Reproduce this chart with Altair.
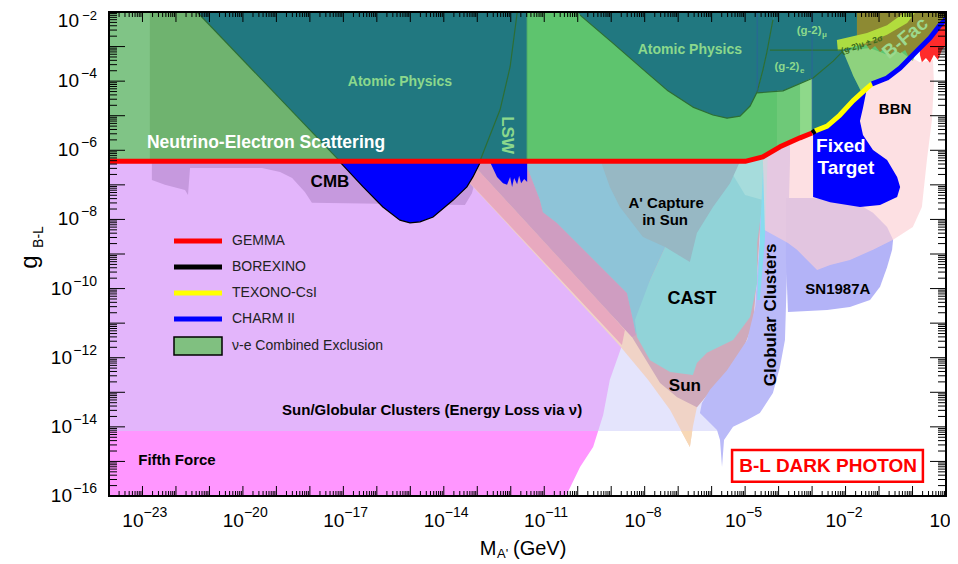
import altair as alt
import pandas as pd

FONT = "Liberation Sans"
W, H = 837, 484

# ---------------- axes ----------------
X_MIN_EXP, X_MAX_EXP = -24, 1
Y_MIN_EXP, Y_MAX_EXP = -16, -2
X_LABEL_EXP = [-23, -20, -17, -14, -11, -8, -5, -2]
X_LAST_LABEL_EXP = 1
Y_LABEL_EXP_1 = [-4, -6, -8]
Y_LABEL_EXP_2 = [-10, -12, -14, -16]
Y_TOP_LABEL_EXP = -2

# ---------------- regions (log10 M [GeV], log10 g) ----------------
PALE_M = [-24, -5.75, -5.30, -4.56, -4.56, -24]
PALE_G = [-14.12, -14.12, -13.95, -12.64, -6.0, -6.0]

FIFTH_M = [-24, -24, -9.39, -9.54, -9.93, -10.35]
FIFTH_G = [-16, -14.12, -14.12, -14.58, -15.16, -16]

ELOSS_M = [-24, -9.39, -9.24, -9.04, -8.65, -8.50, -13.5, -24]
ELOSS_G = [-14.12, -14.12, -13.66, -12.64, -11.57, -11.0, -6.0, -6.0]

CMB_M = [-22.72, -22.72, -22.33, -21.73, -21.64, -21.58, -19.43, -18.89, -18.53, -18.15, -17.94, -13.37, -13.16, -13.01, -12.92]
CMB_G = [-6.34, -6.86, -7.00, -7.15, -7.29, -6.51, -6.51, -6.63, -6.80, -7.21, -7.52, -7.58, -7.24, -6.71, -6.34]

PEACH_M = [-13.81, -9.04, -8.74, -7.90, -7.24, -6.65, -6.56, -6.44, -5.75, -5.15, -4.76, -4.64, -4.50, -4.41]
PEACH_G = [-6.34, -11.34, -11.66, -12.64, -13.51, -14.58, -14.00, -13.43, -12.64, -11.98, -11.00, -9.55, -7.44, -6.34]

PEACH_TIP_M = [-6.91, -6.65, -6.58]
PEACH_TIP_G = [-14.12, -14.58, -14.12]

SALMON_M = [-13.81, -8.68, -8.59, -9.04, -13.19]
SALMON_G = [-6.34, -11.63, -11.20, -10.71, -6.34]

SUN_M = [-13.19, -9.04, -8.38, -7.54, -7.03, -6.44, -5.75, -5.15, -4.76, -4.64, -4.50, -4.41]
SUN_G = [-6.34, -10.71, -11.40, -12.73, -13.14, -13.43, -12.64, -11.98, -11.00, -9.55, -7.44, -6.34]

MAUVE_M = [-13.19, -9.04, -8.38, -8.26, -8.35, -8.53, -10.62, -11.04, -11.13, -11.51, -11.51]
MAUVE_G = [-6.34, -10.71, -11.40, -11.34, -10.91, -10.13, -8.10, -7.79, -7.44, -6.48, -6.0]

LBLUE_M = [-11.51, -11.51, -11.13, -11.04, -10.62, -8.53, -8.35, -8.26, -7.84, -7.39, -7.03, -6.91, -6.91]
LBLUE_G = [-6.0, -6.48, -7.44, -7.79, -8.10, -10.13, -10.91, -11.34, -9.75, -8.80, -7.52, -6.34, -6.0]

GLOB_M = [-4.56, -3.66, -3.66, -3.72, -3.81, -3.96, -4.17, -4.56, -4.94, -5.36, -5.63, -5.69, -5.75, -5.84, -6.05, -6.35, -6.29, -6.05, -5.54, -4.94, -4.70, -4.64, -4.56]
GLOB_G = [-5.7, -5.7, -6.34, -8.59, -11.49, -12.27, -13.02, -13.60, -13.80, -14.00, -14.38, -15.16, -14.38, -14.09, -13.89, -13.60, -13.31, -12.93, -12.36, -11.49, -10.53, -9.55, -8.59]

SN_M = [-3.78, -2.97, -1.57, -1.18, -0.76, -0.58, -0.61, -0.76, -0.97, -1.27, -1.87, -2.55, -3.72, -3.78]
SN_G = [-7.38, -7.38, -7.58, -7.81, -8.22, -8.59, -8.88, -9.38, -9.95, -10.33, -10.53, -10.62, -10.68, -9.17]

CAST_M = [-6.91, -7.03, -7.39, -7.84, -8.29, -8.23, -7.84, -7.24, -6.56, -6.44, -6.14, -5.36, -4.85, -4.64, -4.64, -4.47, -4.38, -4.38, -6.91]
CAST_G = [-6.34, -7.52, -8.80, -9.75, -10.91, -11.40, -12.07, -12.41, -12.50, -12.15, -11.86, -11.49, -10.82, -9.84, -8.68, -7.44, -6.34, -6.0, -6.0]

CYAN_M = [-4.44, -4.32, -4.41, -4.56, -4.64, -4.56]
CYAN_G = [-6.0, -6.0, -8.59, -10.33, -10.33, -8.59]

CASTL_M = [-5.81, -5.00, -4.47, -4.38]
CASTL_G = [-6.0, -7.29, -7.44, -6.0]

ACAP_M = [-9.33, -9.27, -9.04, -8.74, -8.05, -7.39, -6.65, -6.44, -5.96, -5.45, -5.00]
ACAP_G = [-6.0, -6.43, -7.06, -7.64, -8.51, -8.80, -9.23, -8.39, -7.64, -6.95, -6.0]

BBN_M = [-4.47, -3.96, -3.36, -3.00, -2.55, -2.17, -1.78, -1.36, -1.21, -0.76, -0.37, -0.01, 0.22, 0.61, 0.64, 0.58, 0.43, 0.28, 0.01, -0.58, -1.18, -1.87, -2.46, -2.85, -3.45, -3.72, -4.41]
BBN_G = [-6.28, -5.90, -5.64, -5.50, -5.30, -4.98, -4.57, -4.20, -4.08, -3.91, -3.62, -3.33, -3.45, -3.39, -4.05, -5.12, -6.28, -7.64, -8.22, -8.59, -8.88, -9.17, -9.32, -9.46, -8.88, -8.68, -8.31]

FIXED_M = [-2.97, -2.55, -2.17, -1.78, -1.36, -1.48, -1.57, -1.48, -1.18, -0.76, -0.46, -0.37, -0.46, -0.97, -1.57, -2.46, -2.97]
FIXED_G = [-5.44, -5.30, -4.98, -4.57, -4.20, -4.78, -5.15, -5.56, -5.99, -6.28, -6.77, -7.06, -7.35, -7.58, -7.64, -7.50, -7.35]

BLUE1_M = [-17.10, -16.41, -15.82, -15.31, -15.01, -14.71, -14.32, -13.72, -13.31, -13.13, -12.92]
BLUE1_G = [-6.34, -7.06, -7.64, -8.02, -8.10, -8.07, -7.93, -7.44, -7.06, -6.77, -6.37]

BLUE2_M = [-12.62, -12.41, -12.23, -12.11, -12.02, -11.96, -11.90, -11.81, -11.75, -11.69, -11.60, -11.51, -11.51]
BLUE2_G = [-6.34, -6.77, -6.95, -7.00, -6.77, -7.06, -6.80, -6.98, -6.74, -6.95, -6.83, -6.92, -6.34]

# experimental limits (lines)
GEMMA_M = [-24, -5.0, -4.47, -3.96, -3.36, -3.00]
GEMMA_G = [-6.32, -6.32, -6.19, -5.90, -5.64, -5.50]
BOREX_M = [-3.00, -2.91]
BOREX_G = [-5.50, -5.44]
TEXONO_M = [-2.91, -2.55, -2.17, -1.78, -1.36, -1.21]
TEXONO_G = [-5.44, -5.30, -4.98, -4.57, -4.20, -4.08]
CHARM_M = [-1.21, -0.76, -0.37, 0.13, 0.52, 0.82, 1.0]
CHARM_G = [-4.08, -3.91, -3.62, -3.13, -2.75, -2.38, -2.2]

# upper regions
GREEN_M = [-24, -5.0, -4.47, -3.96, -3.36, -3.00, -2.91, -2.55, -2.17, -1.78, -1.36, -1.21, -0.76, -0.37, 0.13, 0.52, 0.82, 1.0, 1.0, -24]
GREEN_G = [-6.32, -6.32, -6.19, -5.90, -5.64, -5.50, -5.44, -5.30, -4.98, -4.57, -4.20, -4.08, -3.91, -3.62, -3.13, -2.75, -2.38, -2.2, -2.0, -2.0]
GLEFT_M = [-24, -21.37, -17.10, -24]
GLEFT_G = [-2.0, -2.0, -6.32, -6.32]
GSTRIP_M = [-24, -22.78, -22.78, -24]
GSTRIP_G = [-2.0, -2.0, -6.32, -6.32]
TEAL1_M = [-21.37, -11.51, -11.51, -17.10]
TEAL1_G = [-2.0, -2.0, -6.32, -6.32]
ATOM_M = [-9.99, -9.93, -8.95, -7.93, -7.33, -6.56, -5.96, -5.54, -5.15, -4.85, -4.64, -4.47, -4.35, -4.17, -4.08]
ATOM_G = [-2.0, -2.09, -2.90, -3.76, -4.26, -4.75, -4.98, -5.07, -5.01, -4.72, -4.31, -3.68, -3.16, -2.23, -2.0]
G2_M = [-4.08, -1.66, -1.66, -1.87, -1.78, -1.51, -1.78, -2.17, -2.55, -2.91, -3.00, -3.00, -3.87, -4.64, -4.47, -4.35, -4.17]
G2_G = [-2.0, -2.0, -2.87, -3.04, -3.82, -4.34, -4.57, -4.98, -5.30, -5.44, -5.50, -3.91, -4.28, -4.34, -3.68, -3.16, -2.23]
STRA_M = [-4.05, -3.36, -3.36, -3.87, -4.05]
STRA_G = [-5.96, -5.64, -4.08, -4.28, -4.28]
STRB_M = [-3.36, -3.00, -3.00, -3.36]
STRB_G = [-5.64, -5.50, -3.91, -4.08]
LG_M = [-2.08, -1.27, -0.76, -0.37, 0.01, 0.13, -0.37, -0.76, -1.21, -1.36, -1.51, -1.78]
LG_G = [-3.13, -3.04, -3.24, -3.13, -3.42, -3.13, -3.62, -3.91, -4.08, -4.20, -4.34, -3.82]
BFAC_M = [-1.66, -1.66, -1.48, -1.39, -1.27, -1.12, -0.97, -0.82, -0.67, -0.52, -0.37, -0.22, -0.07, 0.04, 0.13, 0.52, 0.82, 1.0, 1.0]
BFAC_G = [-2.0, -2.87, -3.01, -2.93, -3.10, -2.98, -3.16, -3.04, -3.24, -3.10, -3.19, -3.10, -3.39, -3.16, -3.13, -2.75, -2.38, -2.2, -2.0]
BABAR_M = [0.22, 0.52, 0.82, 1.0, 1.0, 0.88, 0.76, 0.64, 0.52, 0.40, 0.28, 0.22]
BABAR_G = [-3.01, -2.75, -2.38, -2.2, -2.95, -3.10, -3.39, -3.24, -3.47, -3.33, -3.45, -3.24]
BAND_M = [-2.23, -1.36, -0.76, -0.16, 0.07, -0.22, -0.76, -1.36, -2.26]
BAND_G = [-3.13, -2.90, -2.66, -2.32, -2.03, -2.0, -2.38, -2.61, -2.81]

# boundary curves
DIAG_M = [-21.37, -17.10]
DIAG_G = [-2.0, -6.32]
LSWC_M = [-11.81, -12.02, -12.32, -12.71, -12.92]
LSWC_G = [-2.03, -3.59, -4.83, -5.79, -6.31]
G2E_M = [-4.64, -3.87, -2.97, -2.37, -2.08]
G2E_G = [-4.34, -4.28, -3.91, -3.42, -3.13]
G2MU_M = [-4.26, -2.08]
G2MU_G = [-3.10, -3.10]

# ---------------- helpers ----------------
xs = alt.Scale(type="log", domain=[10.0 ** X_MIN_EXP, 10.0 ** X_MAX_EXP], nice=False)
ys = alt.Scale(type="log", domain=[10.0 ** Y_MIN_EXP, 10.0 ** Y_MAX_EXP], nice=False)


def XE(f):
    return alt.X(f, type="quantitative", scale=xs, axis=None)


def YE(f):
    return alt.Y(f, type="quantitative", scale=ys, axis=None)


def frame(lm, lg):
    return pd.DataFrame({"m": [10.0 ** v for v in lm],
                         "g": [10.0 ** v for v in lg],
                         "i": list(range(len(lm)))})


def poly(lm, lg, fill, opacity=1.0, stroke=None, sw=1.0):
    kw = dict(filled=True, fill=fill, fillOpacity=opacity, clip=True, interpolate="linear")
    if stroke:
        kw["stroke"] = stroke
        kw["strokeWidth"] = sw
    else:
        kw["strokeWidth"] = 0
    return alt.Chart(frame(lm, lg)).mark_line(**kw).encode(
        x=XE("m"), y=YE("g"), order=alt.Order("i:Q"))


def curve(lm, lg, color, width, opacity=1.0):
    return alt.Chart(frame(lm, lg)).mark_line(
        color=color, strokeWidth=width, clip=True, interpolate="linear",
        strokeCap="butt", strokeJoin="round", opacity=opacity).encode(
        x=XE("m"), y=YE("g"), order=alt.Order("i:Q"))


def txt(s, lm, lg, size, color="black", angle=None, weight="bold", align="center", dx=None, dy=None):
    d = pd.DataFrame({"m": [10.0 ** lm], "g": [10.0 ** lg], "t": [s]})
    kw = dict(fontSize=size, color=color, fontWeight=weight, align=align, baseline="middle", font=FONT)
    if angle is not None:
        kw["angle"] = angle
    if dx is not None:
        kw["dx"] = dx
    if dy is not None:
        kw["dy"] = dy
    return alt.Chart(d).mark_text(**kw).encode(x=XE("m"), y=YE("g"), text="t:N")


def ptxt(s, px, py, size, color="black", angle=None, weight="normal", align="center"):
    d = pd.DataFrame({"t": [s]})
    kw = dict(fontSize=size, color=color, fontWeight=weight, align=align, baseline="middle", font=FONT)
    if angle is not None:
        kw["angle"] = angle
    return alt.Chart(d).mark_text(**kw).encode(x=alt.value(px), y=alt.value(py), text="t:N")


one = pd.DataFrame({"a": [0]})
layers = []

# ---- lower regions ----
layers += [
    poly(PALE_M, PALE_G, "#e4e4fc"),
    poly(FIFTH_M, FIFTH_G, "#ff96ff"),
    poly(ELOSS_M, ELOSS_G, "#e3b5fb"),
    poly(CMB_M, CMB_G, "#c699de"),
    poly(PEACH_M, PEACH_G, "#f0d3c6"),
    poly(PEACH_TIP_M, PEACH_TIP_G, "#f8d8b6"),
    poly(SALMON_M, SALMON_G, "#e8a9bf"),
    poly(SUN_M, SUN_G, "#cfaabb"),
    poly(MAUVE_M, MAUVE_G, "#cf9dc1"),
    poly(LBLUE_M, LBLUE_G, "#8ec4d8"),
    poly(GLOB_M, GLOB_G, "#babaf8"),
    poly(SN_M, SN_G, "#b3b3f7"),
    poly(CAST_M, CAST_G, "#91d3d8"),
    poly(CASTL_M, CASTL_G, "#a6dcdc"),
    poly(CYAN_M, CYAN_G, "#86dcef"),
    poly(ACAP_M, ACAP_G, "#97b8c4"),
    poly(BBN_M, BBN_G, "#fcd0d4", opacity=0.65),
    poly(FIXED_M, FIXED_G, "#0000ff"),
    poly(BLUE1_M, BLUE1_G, "#0000ff", stroke="black", sw=1.2),
    poly(BLUE2_M, BLUE2_G, "#0000ff"),
]

# ---- upper regions ----
layers += [
    poly(GREEN_M, GREEN_G, "#5ec46e"),
    poly(GLEFT_M, GLEFT_G, "#6fb36f"),
    poly(GSTRIP_M, GSTRIP_G, "#80c486"),
    poly(TEAL1_M, TEAL1_G, "#217880"),
    poly(ATOM_M, ATOM_G, "#217880"),
    poly(G2_M, G2_G, "#217880"),
    poly(STRA_M, STRA_G, "#6ec978"),
    poly(STRB_M, STRB_G, "#8ed98a"),
    poly(LG_M, LG_G, "#8ed27e"),
    poly(BFAC_M, BFAC_G, "#8d8a33"),
    poly(BABAR_M, BABAR_G, "#ff2b2b"),
    poly(BAND_M, BAND_G, "#b4e23e", opacity=0.95),
]

# ---- boundary curves ----
DG = "#2d6e34"
layers += [
    curve(DIAG_M, DIAG_G, DG, 1.2),
    curve(LSWC_M, LSWC_G, DG, 1.2),
    curve(ATOM_M[1:-1], ATOM_G[1:-1], DG, 1.2),
    curve(G2E_M, G2E_G, DG, 1.2),
    curve(G2MU_M, G2MU_G, DG, 1.2),
    curve([-11.51, -11.51], [-2.0, -6.32], "#58b868", 1.0),
    curve([-4.64, -4.64], [-2.0, -4.31], "#3355aa", 0.8, 0.7),
    curve([-3.0, -3.0], [-2.0, -5.5], "#3355aa", 0.8, 0.7),
]

# ---- experimental lines ----
layers += [
    curve(GEMMA_M, GEMMA_G, "#ff0000", 5),
    curve(TEXONO_M, TEXONO_G, "#ffff00", 5),
    curve(CHARM_M, CHARM_G, "#0000ff", 5),
    curve(BOREX_M, BOREX_G, "#000000", 5),
]

# ---- region labels ----
LG_TXT = "#8cd88c"
layers += [
    txt("Atomic Physics", -15.31, -4.02, 14, LG_TXT),
    txt("Atomic Physics", -6.65, -3.10, 14, LG_TXT),
    txt("(g-2)", -3.0, -2.55, 11.5, LG_TXT, dx=-3),
    txt("μ", -3.0, -2.55, 8, LG_TXT, align="left", dx=10, dy=4),
    txt("(g-2)", -3.66, -3.59, 11.5, LG_TXT, dx=-3),
    txt("e", -3.66, -3.59, 8, LG_TXT, align="left", dx=10, dy=4),
    txt("LSW", -12.11, -5.56, 17, LG_TXT, angle=90),
    txt("Neutrino-Electron Scattering", -19.31, -5.79, 17.5, "white"),
    txt("CMB", -17.40, -6.92, 17),
    txt("A' Capture", -7.36, -7.52, 15),
    txt("in Sun", -7.39, -8.02, 15),
    txt("CAST", -6.59, -10.30, 18),
    txt("Sun", -6.80, -12.82, 17),
    txt("Globular Clusters", -4.23, -10.76, 17, angle=270),
    txt("SN1987A", -2.23, -10.01, 15),
    txt("BBN", -0.52, -4.81, 15),
    txt("Fixed", -2.14, -5.88, 19, "white"),
    txt("Target", -1.99, -6.51, 19, "white"),
    txt("Sun/Globular Clusters (Energy Loss via ν)", -14.35, -13.51, 15),
    txt("Fifth Force", -21.97, -14.96, 15),
    txt("B-Fac", -0.22, -2.75, 19, "#9cd98e", angle=320),
    txt("(g-2)μ ± 2σ", -1.51, -2.93, 8.5, "#3b6a1c", angle=342),
]

# B-L DARK PHOTON box
box = pd.DataFrame({"m1": [10.0 ** -5.39], "m2": [10.0 ** 0.31], "g1": [10.0 ** -14.67], "g2": [10.0 ** -15.59]})
layers.append(alt.Chart(box).mark_rect(fill="white", stroke="#ff0000", strokeWidth=2.5).encode(
    x=XE("m1"), x2="m2", y=YE("g1"), y2="g2"))
layers.append(txt("B-L DARK PHOTON", -2.52, -15.13, 19, "#ff0000"))

# ---- legend ----
LEG_ROWS = [("GEMMA", "#ff0000", 229), ("BOREXINO", "#000000", 255),
            ("TEXONO-CsI", "#ffff00", 281), ("CHARM II", "#0000ff", 307)]
for name, col, yy in LEG_ROWS:
    layers.append(alt.Chart(one).mark_rule(color=col, strokeWidth=5).encode(
        x=alt.value(65), x2=alt.value(113), y=alt.value(yy)))
    layers.append(ptxt(name, 123, yy, 14, "#222222", align="left"))
layers.append(alt.Chart(one).mark_rect(fill="#80c080", stroke="black", strokeWidth=1.5).encode(
    x=alt.value(65), x2=alt.value(113), y=alt.value(325), y2=alt.value(343)))
layers.append(ptxt("ν-e Combined Exclusion", 123, 334, 14, "#222222", align="left"))

# ---- frame & ticks ----
XMAJ = pd.DataFrame({"v": [10.0 ** k for k in range(X_MIN_EXP + 1, X_MAX_EXP)]})
XMIN = pd.DataFrame({"v": [m * 10.0 ** k for k in range(X_MIN_EXP, X_MAX_EXP) for m in range(2, 10)]})
YMAJ = pd.DataFrame({"v": [10.0 ** k for k in range(Y_MIN_EXP + 1, Y_MAX_EXP)]})
YMIN = pd.DataFrame({"v": [m * 10.0 ** k for k in range(Y_MIN_EXP, Y_MAX_EXP) for m in range(2, 10)]})


def xticks(df, length):
    return [alt.Chart(df).mark_rule(color="black", strokeWidth=1).encode(
                x=XE("v"), y=alt.value(H), y2=alt.value(H - length)),
            alt.Chart(df).mark_rule(color="black", strokeWidth=1).encode(
                x=XE("v"), y=alt.value(0), y2=alt.value(length))]


def yticks(df, length):
    return [alt.Chart(df).mark_rule(color="black", strokeWidth=1).encode(
                y=YE("v"), x=alt.value(0), x2=alt.value(length)),
            alt.Chart(df).mark_rule(color="black", strokeWidth=1).encode(
                y=YE("v"), x=alt.value(W), x2=alt.value(W - length))]


layers += xticks(XMAJ, 10) + xticks(XMIN, 5) + yticks(YMAJ, 16) + yticks(YMIN, 8)
layers.append(alt.Chart(one).mark_rect(filled=False, stroke="black", strokeWidth=2).encode(
    x=alt.value(0), x2=alt.value(W), y=alt.value(0), y2=alt.value(H)))

# ---- tick labels ----
xl = pd.DataFrame({"v": [10.0 ** k for k in X_LABEL_EXP],
                   "b": ["10"] * len(X_LABEL_EXP),
                   "e": ["\u2212" + str(abs(k)) for k in X_LABEL_EXP]})
layers.append(alt.Chart(xl).mark_text(align="right", baseline="middle", fontSize=19, font=FONT, dx=1).encode(
    x=XE("v"), y=alt.value(509), text="b:N"))
layers.append(alt.Chart(xl).mark_text(align="left", baseline="middle", fontSize=14, font=FONT, dx=1).encode(
    x=XE("v"), y=alt.value(501), text="e:N"))
xlast = pd.DataFrame({"v": [10.0 ** X_LAST_LABEL_EXP], "b": ["10"]})
layers.append(alt.Chart(xlast).mark_text(align="center", baseline="middle", fontSize=19, font=FONT, dx=-6).encode(
    x=XE("v"), y=alt.value(509), text="b:N"))

for grp, bx in ((Y_LABEL_EXP_1, -30), (Y_LABEL_EXP_2, -37)):
    yl = pd.DataFrame({"v": [10.0 ** k for k in grp], "b": ["10"] * len(grp),
                       "e": ["\u2212" + str(abs(k)) for k in grp]})
    layers.append(alt.Chart(yl).mark_text(align="right", baseline="middle", fontSize=19, font=FONT).encode(
        y=YE("v"), x=alt.value(bx), text="b:N"))
    layers.append(alt.Chart(yl).mark_text(align="right", baseline="middle", fontSize=14, font=FONT, dy=-7).encode(
        y=YE("v"), x=alt.value(-12), text="e:N"))
# top label nudged down so it stays inside the page
ytop = pd.DataFrame({"v": [10.0 ** Y_TOP_LABEL_EXP], "b": ["10"], "e": ["\u2212" + str(abs(Y_TOP_LABEL_EXP))]})
layers.append(alt.Chart(ytop).mark_text(align="right", baseline="middle", fontSize=19, font=FONT, dy=9).encode(
    y=YE("v"), x=alt.value(-30), text="b:N"))
layers.append(alt.Chart(ytop).mark_text(align="right", baseline="middle", fontSize=13, font=FONT, dy=4).encode(
    y=YE("v"), x=alt.value(-12), text="e:N"))

# ---- axis titles ----
layers += [
    ptxt("M", 379, 537, 20),
    ptxt("A'", 388, 542, 13, align="left"),
    ptxt("(GeV)", 404, 537, 20, align="left"),
    ptxt("g", -79, 250, 24, angle=270),
    ptxt("B-L", -70, 225, 14, angle=270),
]

chart = alt.layer(*layers).properties(
    width=W, height=H,
    padding={"left": 101, "top": 4, "right": 4, "bottom": 64},
    autosize=alt.AutoSizeParams(type="none"),
).configure_view(stroke=None)

chart.save("out.html", embed_options={"renderer": "svg", "actions": False})
